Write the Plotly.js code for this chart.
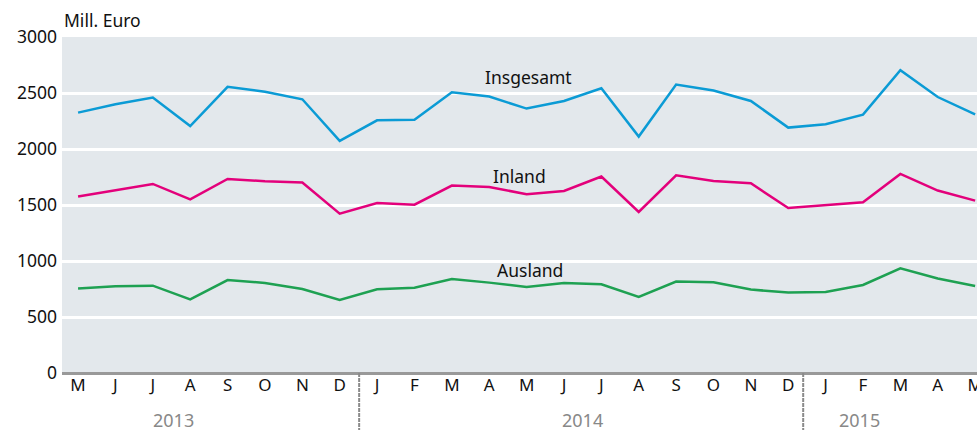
<!DOCTYPE html>
<html><head><meta charset="utf-8">
<script src="https://cdn.plot.ly/plotly-3.0.1.min.js"></script>
<style>html,body{margin:0;padding:0;background:#fff}#c{width:977px;height:430px}</style>
</head><body><div id="c"></div>
<script>
const months = ["M","J","J","A","S","O","N","D","J","F","M","A","M","J","J","A","S","O","N","D","J","F","M","A","M"];
const insgesamt = [2325,2400,2460,2205,2555,2512,2444,2072,2256,2262,2506,2468,2361,2429,2542,2111,2575,2522,2429,2191,2221,2307,2703,2464,2310];
const inland = [1575,1630,1688,1551,1732,1712,1700,1423,1518,1503,1673,1661,1596,1625,1754,1438,1765,1714,1694,1473,1497,1524,1777,1629,1539];
const ausland = [754,774,780,658,830,804,750,652,747,762,839,807,768,804,792,679,816,810,745,718,723,786,935,843,777];
const years = ["2013","2014","2015"];
const yearStart = [0,8,20];
const yTicks = [0,500,1000,1500,2000,2500,3000];

const idx = months.map((_,i)=>i);
const FONT = "Noto Sans, sans-serif";
function tr(y,color){return {x:idx,y:y,type:"scatter",mode:"lines",line:{color:color,width:2.5},hoverinfo:"skip"};}
const data = [tr(ausland,"#1ea152"),tr(inland,"#e3007b"),tr(insgesamt,"#0b9bd5")];

const sepOffset = [0,-0.48,-0.6];
const shapes = [];
for(let k=1;k<yearStart.length;k++){
  const xs = yearStart[k]+sepOffset[k];
  shapes.push({type:"line",xref:"x",yref:"paper",x0:xs,x1:xs,y0:0,y1:-0.2,line:{color:"#8a8a8a",width:2,dash:"4px,1px"}});
}
const yearLabelPos = [2.55,13.5,20.9];
const annotations = years.map((y,k)=>({text:y,xref:"x",yref:"paper",x:yearLabelPos[k],y:-0.14,yanchor:"middle",showarrow:false,font:{family:FONT,size:18,color:"#888"}}));
annotations.push({text:"Insgesamt",xref:"x",yref:"y",x:12.05,y:2640,showarrow:false,font:{family:FONT,size:17.5,color:"#111"}});
annotations.push({text:"Inland",xref:"x",yref:"y",x:11.8,y:1760,showarrow:false,font:{family:FONT,size:17.5,color:"#111"}});
annotations.push({text:"Ausland",xref:"x",yref:"y",x:12.1,y:920,showarrow:false,font:{family:FONT,size:17.5,color:"#111"}});
annotations.push({text:"Mill. Euro",xref:"paper",yref:"paper",x:0,xanchor:"left",y:1.01,yanchor:"bottom",showarrow:false,font:{family:FONT,size:17.5,color:"#111"}});

const layout = {
  width:977,height:430,
  margin:{l:62,r:0,t:37,b:57},
  paper_bgcolor:"#fff",plot_bgcolor:"#e3e8ec",
  showlegend:false,
  font:{family:FONT,size:16,color:"#111"},
  xaxis:{range:[-0.43,24.05],tickvals:idx,ticktext:months,showgrid:false,zeroline:false,showline:false,ticks:"",ticklabeloverflow:"allow",tickfont:{family:FONT,size:17,color:"#111"},fixedrange:true},
  yaxis:{range:[0,3000],tickvals:yTicks,ticktext:yTicks.map(String),showgrid:true,gridcolor:"#fff",gridwidth:3,zeroline:true,zerolinecolor:"#999",zerolinewidth:3,showline:false,ticks:"",ticklabelstandoff:4,tickfont:{family:FONT,size:17.5,color:"#111"},fixedrange:true},
  shapes:shapes,annotations:annotations
};
Plotly.newPlot("c",data,layout,{staticPlot:true});
</script></body></html>
